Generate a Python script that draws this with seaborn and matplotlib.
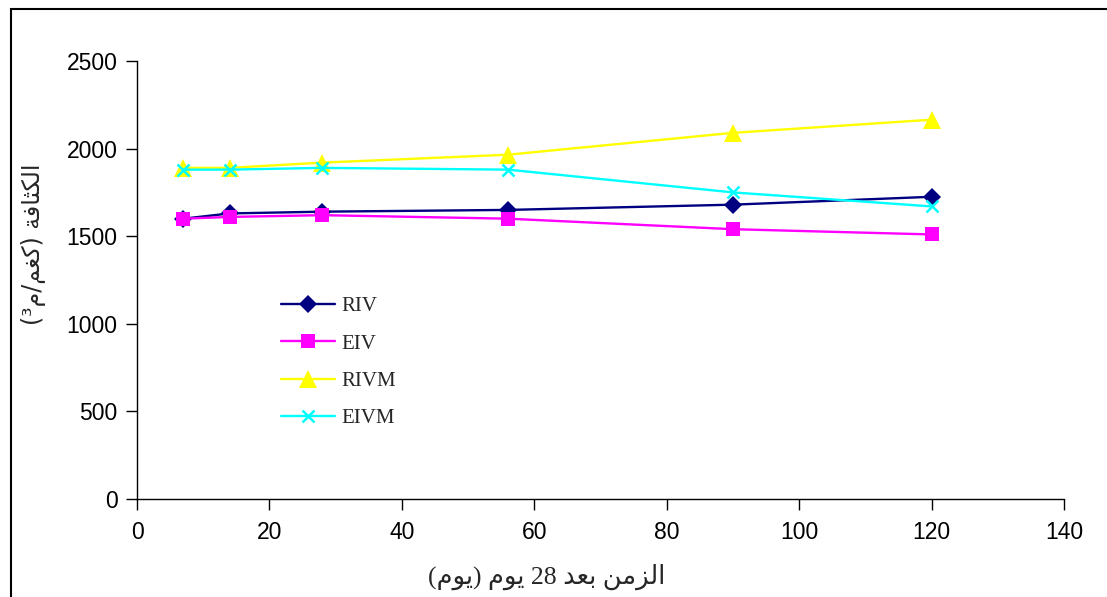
import re
import matplotlib
matplotlib.use("Agg")
import matplotlib.pyplot as plt
from matplotlib.colors import to_hex
from matplotlib.patches import Rectangle
import pandas as pd
import seaborn as sns

# Curing time (days after 28 days) and density of each mix (kg/m3)
days = [7, 14, 28, 56, 90, 120]
riv = [1600, 1630, 1640, 1650, 1680, 1725]
eiv = [1600, 1610, 1620, 1600, 1540, 1510]
rivm = [1890, 1890, 1920, 1965, 2090, 2165]
eivm = [1880, 1880, 1890, 1880, 1750, 1670]
series_names = ["RIV", "EIV", "RIVM", "EIVM"]
x_ticks = [0, 20, 40, 60, 80, 100, 120, 140]
y_ticks = [0, 500, 1000, 1500, 2000, 2500]
x_label = "الزمن بعد 28 يوم (يوم)"
y_label = "الكثافة (كغم/م³)"

# Arabic contextual forms: isolated, final, initial, medial
FORMS = {
    "\u0627": ("\uFE8D", "\uFE8E", None, None),
    "\u0644": ("\uFEDD", "\uFEDE", "\uFEDF", "\uFEE0"),
    "\u0643": ("\uFED9", "\uFEDA", "\uFEDB", "\uFEDC"),
    "\u062B": ("\uFE99", "\uFE9A", "\uFE9B", "\uFE9C"),
    "\u0641": ("\uFED1", "\uFED2", "\uFED3", "\uFED4"),
    "\u0629": ("\uFE93", "\uFE94", None, None),
    "\u063A": ("\uFECD", "\uFECE", "\uFECF", "\uFED0"),
    "\u0645": ("\uFEE1", "\uFEE2", "\uFEE3", "\uFEE4"),
    "\u0632": ("\uFEAF", "\uFEB0", None, None),
    "\u0646": ("\uFEE5", "\uFEE6", "\uFEE7", "\uFEE8"),
    "\u0628": ("\uFE8F", "\uFE90", "\uFE91", "\uFE92"),
    "\u0639": ("\uFEC9", "\uFECA", "\uFECB", "\uFECC"),
    "\u062F": ("\uFEA9", "\uFEAA", None, None),
    "\u064A": ("\uFEF1", "\uFEF2", "\uFEF3", "\uFEF4"),
    "\u0648": ("\uFEED", "\uFEEE", None, None),
}


def arabic_display(text):
    """Shape Arabic letters and lay the string out right-to-left."""
    out = []
    for i, ch in enumerate(text):
        if ch not in FORMS:
            out.append(ch)
            continue
        prev = text[i - 1] if i > 0 else ""
        nxt = text[i + 1] if i + 1 < len(text) else ""
        link_prev = prev in FORMS and FORMS[prev][2] is not None
        link_next = FORMS[ch][2] is not None and nxt in FORMS
        iso, fin, ini, med = FORMS[ch]
        if link_prev and link_next:
            out.append(med)
        elif link_prev:
            out.append(fin)
        elif link_next:
            out.append(ini)
        else:
            out.append(iso)
    s = "".join(out)[::-1]
    s = re.sub(r"[0-9]+", lambda m: m.group(0)[::-1], s)
    return s.translate(str.maketrans("()", ")("))


df = pd.DataFrame({
    "day": days * 4,
    "density": riv + eiv + rivm + eivm,
    "mix": [n for n in series_names for _ in days],
})

sns.set_theme(style="white")
plt.rcParams["font.family"] = ["Liberation Sans", "DejaVu Sans"]

fig = plt.figure(figsize=(11.07, 5.97), dpi=100)
ax = fig.add_axes([137 / 1107, 1 - 499 / 597, (1064 - 137) / 1107, (499 - 61) / 597])

palette = {"RIV": "#000080", "EIV": "#ff00ff", "RIVM": "#ffff00", "EIVM": "#00ffff"}
markers = {"RIV": "D", "EIV": "s", "RIVM": "^", "EIVM": "X"}
marker_sizes = {"RIV": 9.5, "EIV": 10, "RIVM": 12.5, "EIVM": 9}
color_to_name = {v: k for k, v in palette.items()}

sns.lineplot(data=df, x="day", y="density", hue="mix", style="mix",
             hue_order=series_names, style_order=series_names,
             palette=palette, markers=markers, dashes=False,
             linewidth=1.7, markersize=9, markeredgewidth=0,
             ax=ax, legend=True)


def restyle(line):
    name = color_to_name.get(to_hex(line.get_color()))
    if name is None:
        return
    line.set_markersize(marker_sizes[name])
    if name == "EIVM":
        line.set_marker("x")
        line.set_markeredgewidth(1.8)
        line.set_markeredgecolor(palette[name])


for line in ax.lines:
    restyle(line)

ax.set_xlim(0, 140)
ax.set_ylim(0, 2500)
ax.set_xticks(x_ticks)
ax.set_yticks(y_ticks)
ax.tick_params(axis="both", direction="out", length=8, width=1.0, color="black",
               labelsize=16.5, labelcolor="black", pad=6)
ax.tick_params(axis="x", bottom=True, pad=8)
ax.tick_params(axis="y", left=True)
for side in ["top", "right"]:
    ax.spines[side].set_visible(False)
for side in ["left", "bottom"]:
    ax.spines[side].set_color("black")
    ax.spines[side].set_linewidth(1.0)

ax.set_xlabel(arabic_display(x_label), fontsize=18.5,
              family=["Liberation Serif", "DejaVu Sans"], va="center")
ax.xaxis.set_label_coords((547 - 137) / 927, (499 - 577) / 438)
ax.set_ylabel(arabic_display(y_label), fontsize=17, family=["DejaVu Sans"],
              va="center")
ax.yaxis.set_label_coords((34 - 137) / 927, (499 - 244) / 438)

handles, labels = ax.get_legend_handles_labels()
for h in handles:
    restyle(h)
leg = ax.legend(handles, labels, loc="upper left",
                bbox_to_anchor=(262 / 1107, 1 - 278 / 597),
                bbox_transform=fig.transFigure, frameon=False,
                prop={"family": "Liberation Serif", "size": 15},
                handlelength=2.6, handletextpad=0.3, labelspacing=0.85)

# chart-area outline
fig.patches.append(Rectangle((11 / 1107, -0.05), 1.2, 1 - 9 / 597 + 0.05,
                             transform=fig.transFigure, fill=False,
                             edgecolor="black", linewidth=1.5, zorder=10))

fig.savefig("out.png", dpi=100)
